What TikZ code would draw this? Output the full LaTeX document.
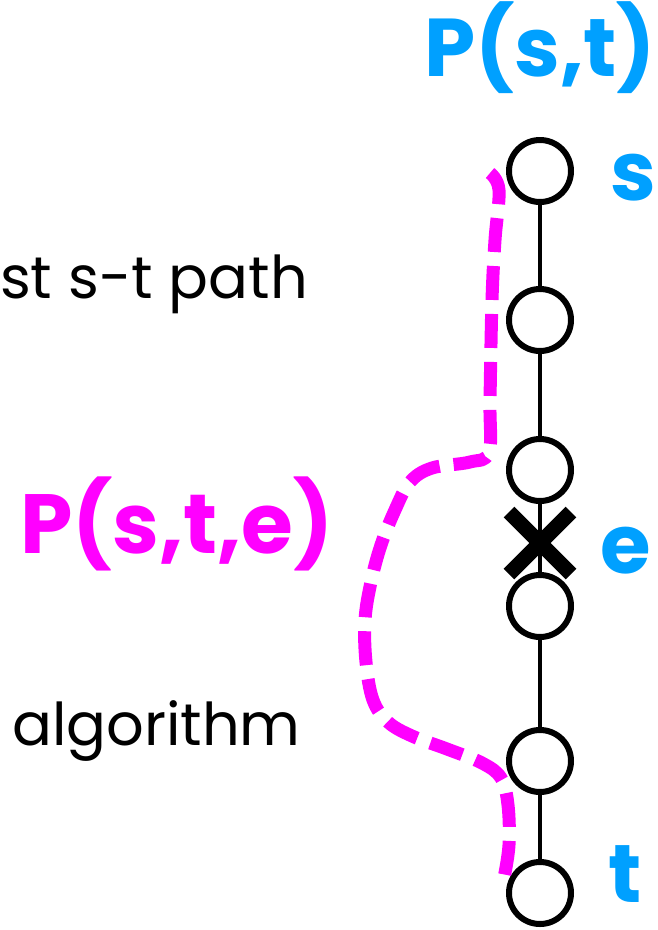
\documentclass[tikz,border=0pt]{standalone}
\usepackage{fontspec}
\setmainfont{Poppins}
\usetikzlibrary{calc}
\definecolor{sky}{RGB}{0,160,255}
\definecolor{mag}{RGB}{255,0,255}
\begin{document}
\begin{tikzpicture}[x=1pt,y=-1pt,
  vtx/.style={circle,draw=black,line width=6pt,fill=white,minimum size=62pt,inner sep=0pt},
  edgeline/.style={line width=4.5pt},
  bluelab/.style={text=sky,font=\fontsize{82}{82}\selectfont\bfseries,inner sep=0pt},
  maglab/.style={text=mag,font=\fontsize{84}{84}\selectfont\bfseries,inner sep=0pt},
  plain/.style={text=black,font=\fontsize{59}{59}\selectfont,inner sep=0pt},
  detour/.style={draw=mag,line width=13pt,dash pattern=on 34pt off 14pt,line join=round}]
\useasboundingbox (0,0) rectangle (657,930);
% vertices
\coordinate (c1) at (540,171);
\coordinate (c2) at (540,320);
\coordinate (c3) at (540,470);
\coordinate (c4) at (540,606);
\coordinate (c5) at (540,761);
\coordinate (c6) at (540,893);
\draw[edgeline] (c1) -- (c2) -- (c3) -- (c4) -- (c5) -- (c6);
\node[vtx] (n1) at (c1) {};
\node[vtx] (n2) at (c2) {};
\node[vtx] (n3) at (c3) {};
\node[vtx] (n4) at (c4) {};
\node[vtx] (n5) at (c5) {};
\node[vtx] (n6) at (c6) {};
% cross
\coordinate (xm) at (540,543);
\draw[line width=15pt] ($(xm)+(-31,-31)$) -- ($(xm)+(31,31)$);
\draw[line width=15pt] ($(xm)+(-31,31)$) -- ($(xm)+(31,-31)$);
% detour path
\draw[detour] plot[smooth,tension=0.6] coordinates {(490,173) (499,190) (495,240) (492,300) (490,400) (489,452) (470,462) (432,468) (410,482) (395,510) (381,545) (371,582) (365,620) (366,662) (373,700) (388,722) (412,736) (447,749) (482,763) (501,778) (508,805) (509,845) (504,878)};
% labels
\node[bluelab,anchor=base] (pst) at (540,76) {P(s,t)};
\node[bluelab,anchor=base west] (ls) at (610,200) {s};
\node[bluelab,anchor=base west] (le) at (600,573) {e};
\node[bluelab,anchor=base west] (lt) at (608,902) {t};
\node[maglab,anchor=base west] (pste) at (20,553) {P(s,t,e)};
\node[plain,anchor=base west] (txt1) at (0,298) {st s-t path};
\node[plain,anchor=base west] (txt2) at (12,745) {algorithm};
\end{tikzpicture}
\end{document}
